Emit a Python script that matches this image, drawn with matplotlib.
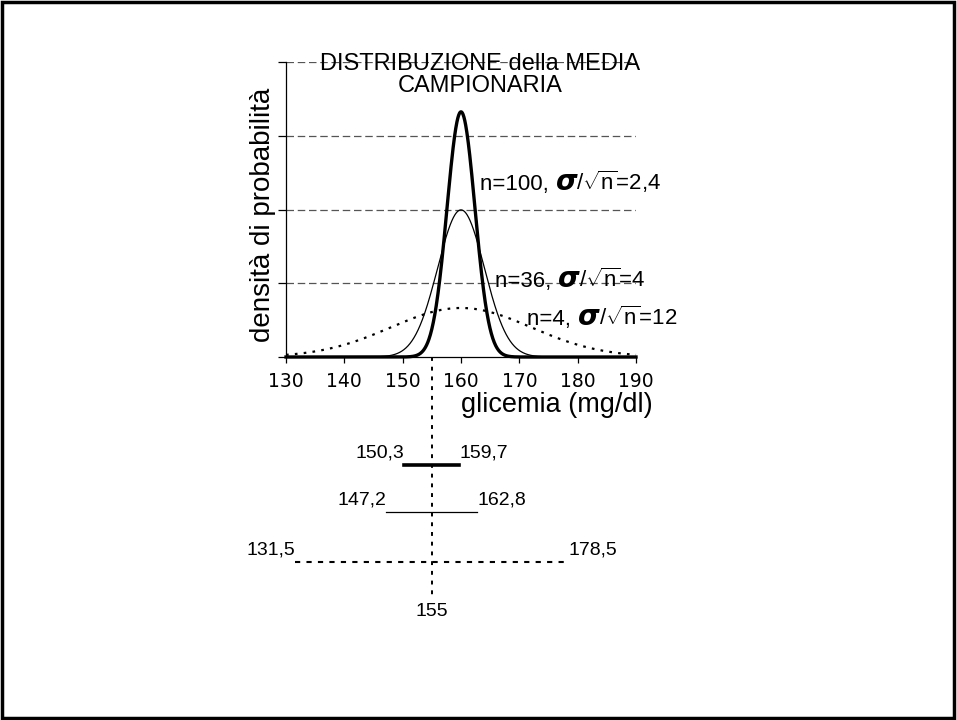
import numpy as np
import matplotlib
matplotlib.use("Agg")
import matplotlib.pyplot as plt
from matplotlib.patches import Rectangle

# ---- data ----
mean = 160
sample_sizes = [100, 36, 4]
std_errors = [2.4, 4, 12]
se_labels = ["2,4", "4", "12"]
xticks = [130, 140, 150, 160, 170, 180, 190]
ygrid = [0.05, 0.10, 0.15, 0.20]
ci_low = [150.3, 147.2, 131.5]
ci_high = [159.7, 162.8, 178.5]
ci_low_labels = ["150,3", "147,2", "131,5"]
ci_high_labels = ["159,7", "162,8", "178,5"]
hyp_mean = 155

plt.rcParams['font.family'] = ['Liberation Sans', 'DejaVu Sans']
plt.rcParams['mathtext.fontset'] = 'custom'
plt.rcParams['mathtext.rm'] = 'Liberation Sans'

W, H = 957, 720
fig = plt.figure(figsize=(9.57, 7.2), dpi=100)
fig.patches.append(Rectangle((0.002, 0.003), 0.995, 0.994, transform=fig.transFigure,
                             fill=False, edgecolor='black', linewidth=2.5))
ax = fig.add_axes([286 / W, 1 - 357 / H, 350 / W, 295 / H])
ax.set_xlim(130, 190)
ax.set_ylim(0, 0.2)

x = np.linspace(130, 190, 1201)
styles = [dict(color='black', lw=2.4, ls='-'),
          dict(color='black', lw=0.9, ls='-'),
          dict(color='black', lw=1.6, ls=(0, (1.2, 2.8)))]
for se, st in zip(std_errors, styles):
    y = np.exp(-0.5 * ((x - mean) / se) ** 2) / (se * np.sqrt(2 * np.pi))
    ax.plot(x, y, zorder=3, clip_on=False, **st)

for g in ygrid:
    ax.axhline(g, color='#555555', lw=0.9, ls=(0, (6, 3)), zorder=1)

for s in ['top', 'right']:
    ax.spines[s].set_visible(False)
ax.spines['left'].set_linewidth(0.9)
ax.spines['bottom'].set_linewidth(0.9)
ax.set_xticks(xticks)
ax.set_xticklabels([str(t) for t in xticks], family='DejaVu Sans', fontsize=13.5)
ax.set_yticks([0] + ygrid)
ax.set_yticklabels([])
ax.tick_params(axis='x', direction='out', length=4.5, width=0.9, pad=6)
ax.tick_params(axis='y', direction='out', length=5.5, width=0.9)

ax.text(0.554, 0.956, "DISTRIBUZIONE della MEDIA\nCAMPIONARIA", transform=ax.transAxes,
        ha='center', va='center', fontsize=17, linespacing=1.0, zorder=4)
ax.text(263 / W, 1 - 215 / H, "densità di probabilità", transform=fig.transFigure,
        rotation=90, ha='center', va='center', fontsize=20)
ax.text(653 / W, 1 - 405 / H, "glicemia (mg/dl)", transform=fig.transFigure,
        ha='right', va='center', fontsize=19.5)

# annotations: "n=.., σ/√n=.." with a larger bold italic sigma, on a shared baseline
renderer = fig.canvas.get_renderer()
ann_pos = [(480, 190), (495, 287), (527, 325)]
for n, lab, (px, py) in zip(sample_sizes, se_labels, ann_pos):
    xb, yb = px / W, 1 - py / H
    pieces = [(f"n={n}, ", dict(fontsize=16), 1),
              ("σ", dict(fontsize=20, fontweight='bold', fontstyle='italic', family='DejaVu Sans'), -1),
              (r"/$\sqrt{\mathrm{n}}$" + f"={lab}", dict(fontsize=16), 0)]
    for s, kw, gap in pieces:
        t = fig.text(xb, yb, s, ha='left', va='baseline', **kw)
        bb = t.get_window_extent(renderer)
        xb += (bb.width + gap) / W

# confidence intervals below the chart (data coords, no clipping)
def ypix(p):
    return -(p - 357) / 295 * 0.2

ax.plot([hyp_mean, hyp_mean], [0, ypix(595)], color='black', lw=1.4,
        ls=(0, (2, 3)), clip_on=False)
ci_y = [465, 512, 562]
ci_styles = [dict(lw=2.6, ls='-'), dict(lw=0.9, ls='-'), dict(lw=1.5, ls=(0, (2.5, 3)))]
for lo, hi, lol, hil, py, st in zip(ci_low, ci_high, ci_low_labels, ci_high_labels, ci_y, ci_styles):
    ax.plot([lo, hi], [ypix(py), ypix(py)], color='black', clip_on=False, **st)
    ax.text(lo, ypix(py - 12), lol, ha='right', va='center', fontsize=14)
    ax.text(hi, ypix(py - 12), hil, ha='left', va='center', fontsize=14)
ax.text(hyp_mean, ypix(612), str(hyp_mean), ha='center', va='center', fontsize=14)

fig.savefig("out.png", dpi=100)
